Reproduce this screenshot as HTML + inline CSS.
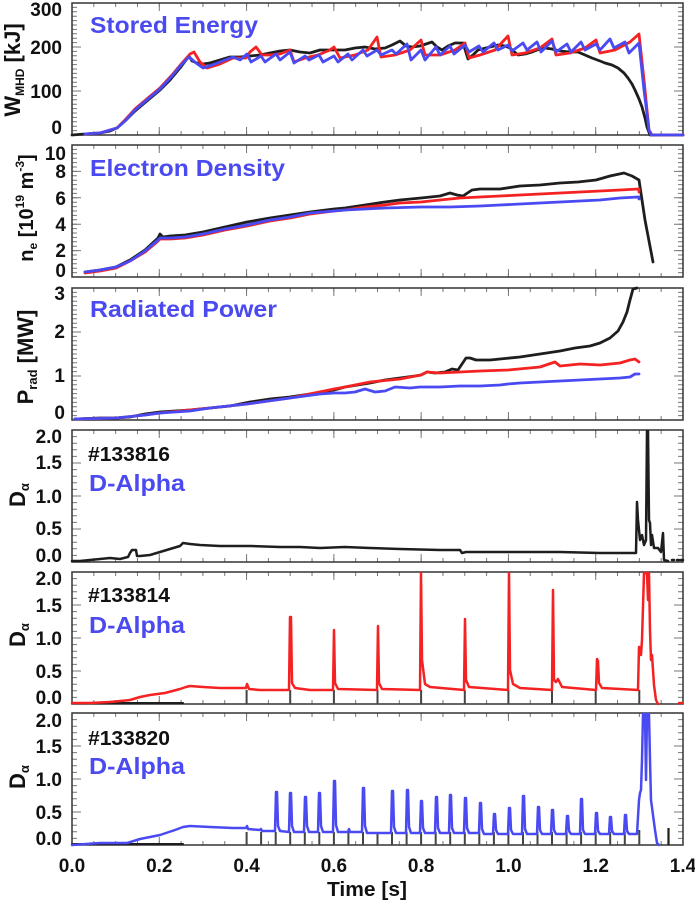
<!DOCTYPE html>
<html><head><meta charset="utf-8"><style>
html,body{margin:0;padding:0;background:#fff;}
svg{display:block;}
text{font-family:"Liberation Sans",Arial,sans-serif;font-weight:bold;}
</style></head><body>
<svg width="695" height="903" viewBox="0 0 695 903" xmlns="http://www.w3.org/2000/svg">
<rect width="695" height="903" fill="#fff"/>

<!-- Panel frames and ticks -->
<g fill="none" stroke="#777">
  <!-- panel 1 -->
  <g transform="translate(0,3)">
    <path d="M71.5 130H683.5M71.5 2H683.5" stroke-width="4" stroke-dasharray="1 20.821"/>
    <path d="M71.5 128H683.5M71.5 4H683.5" stroke-width="8" stroke-dasharray="1 86.286"/>
    <path d="M74.5 132.5V0M680.5 132.5V0" stroke-width="5" stroke-dasharray="1 3.4"/>
    <path d="M76.5 132.5V0M678.5 132.5V0" stroke-width="9" stroke-dasharray="1 43"/>
    <rect x="72" y="0" width="611" height="132" stroke="#333" stroke-width="1.5"/>
  </g>
  <!-- panel 2 -->
  <g transform="translate(0,145)">
    <path d="M71.5 130H683.5M71.5 2H683.5" stroke-width="4" stroke-dasharray="1 20.821"/>
    <path d="M71.5 128H683.5M71.5 4H683.5" stroke-width="8" stroke-dasharray="1 86.286"/>
    <path d="M74.5 132.5V0M680.5 132.5V0" stroke-width="5" stroke-dasharray="1 3.4"/>
    <path d="M76.5 132.5V0M678.5 132.5V0" stroke-width="9" stroke-dasharray="1 25.4"/>
    <rect x="72" y="0" width="611" height="132" stroke="#333" stroke-width="1.5"/>
  </g>
  <!-- panel 3 -->
  <g transform="translate(0,288)">
    <path d="M71.5 130H683.5M71.5 2H683.5" stroke-width="4" stroke-dasharray="1 20.821"/>
    <path d="M71.5 128H683.5M71.5 4H683.5" stroke-width="8" stroke-dasharray="1 86.286"/>
    <path d="M74.5 132.5V0M680.5 132.5V0" stroke-width="5" stroke-dasharray="1 3.4"/>
    <path d="M76.5 132.5V0M678.5 132.5V0" stroke-width="9" stroke-dasharray="1 43"/>
    <rect x="72" y="0" width="611" height="132" stroke="#333" stroke-width="1.5"/>
  </g>
  <!-- panel 4 -->
  <g transform="translate(0,430)">
    <path d="M71.5 130H683.5M71.5 2H683.5" stroke-width="4" stroke-dasharray="1 20.821"/>
    <path d="M71.5 128H683.5M71.5 4H683.5" stroke-width="8" stroke-dasharray="1 86.286"/>
    <path d="M74.5 132.5V0M680.5 132.5V0" stroke-width="5" stroke-dasharray="1 5.6"/>
    <path d="M76.5 132.5V0M678.5 132.5V0" stroke-width="9" stroke-dasharray="1 32"/>
    <rect x="72" y="0" width="611" height="132" stroke="#333" stroke-width="1.5"/>
  </g>
  <!-- panel 5 -->
  <g transform="translate(0,572)">
    <path d="M71.5 130H683.5M71.5 2H683.5" stroke-width="4" stroke-dasharray="1 20.821"/>
    <path d="M71.5 128H683.5M71.5 4H683.5" stroke-width="8" stroke-dasharray="1 86.286"/>
    <path d="M74.5 132.5V0M680.5 132.5V0" stroke-width="5" stroke-dasharray="1 5.6"/>
    <path d="M76.5 132.5V0M678.5 132.5V0" stroke-width="9" stroke-dasharray="1 32"/>
    <rect x="72" y="0" width="611" height="132" stroke="#333" stroke-width="1.5"/>
  </g>
  <!-- panel 6 -->
  <g transform="translate(0,713)">
    <path d="M71.5 130H683.5M71.5 2H683.5" stroke-width="4" stroke-dasharray="1 20.821"/>
    <path d="M71.5 128H683.5M71.5 4H683.5" stroke-width="8" stroke-dasharray="1 86.286"/>
    <path d="M74.5 132.5V0M680.5 132.5V0" stroke-width="5" stroke-dasharray="1 5.6"/>
    <path d="M76.5 132.5V0M678.5 132.5V0" stroke-width="9" stroke-dasharray="1 32"/>
    <rect x="72" y="0" width="611" height="132" stroke="#333" stroke-width="1.5"/>
  </g>
</g>

<!-- Data -->
<g fill="none" stroke-width="2.8" stroke-linejoin="round" stroke-linecap="round">
  <!-- Panel 1: stored energy -->
  <polyline stroke="#1e1e1e" points="72,135 85,134 100,133 110,131 117,128 125,121 135,111 148,100 160,90 170,80 180,68 186,60 189,56 192,61 197,63 203,64 210,63 220,60 230,57 240,57 250,56 260,55 270,53 280,51 290,50 300,52 310,53 320,50 330,50 345,50 355,48 365,47 375,49 385,48 392,45 400,41 406,46 412,47 420,46 426,44 432,42 437,47 442,50 448,46 455,43 463,43 468,59 473,55 478,50 490,47 498,45 505,46 510,48 518,55 525,54 532,52 540,49 545,48 552,49 560,51 570,52 578,52 585,55 592,58 600,61 605,63 612,65 618,68 624,73 628,78 632,84 635,90 639,99 642,107 645,118 647,127 650,135 683,135"/>
  <polyline stroke="#f42222" points="85,134 100,133 117,128 125,120 135,109 148,98 160,88 172,75 182,63 190,54 194,52 200,62 207,68 220,64 233,58 246,58 250,52 256,47 262,55 270,55 280,54 290,50 294,62 305,58 318,55 330,50 334,47 340,58 355,55 368,50 377,37 381,57 395,55 410,50 421,40 425,55 440,55 455,50 465,43 469,58 480,55 495,50 508,36 512,55 525,53 540,48 552,39 556,55 570,53 585,48 596,40 600,53 615,50 630,42 639,34 644,80 649,130 652,135 683,135"/>
  <polyline stroke="#4a4af2" points="85,134 100,133 117,128 125,121 135,110 148,99 160,89 172,76 182,64 189,57 196,63 203,68 215,64 225,60 233,57 240,60 247,54 251,62 261,56 265,62 276,54 280,60 290,52 294,63 305,56 309,60 319,55 323,62 334,56 338,62 348,54 352,60 363,50 367,56 377,50 381,55 392,50 396,54 407,44 411,60 421,50 425,60 436,47 440,55 450,46 454,54 465,45 469,52 479,46 483,52 494,43 498,50 508,45 512,51 523,43 527,50 537,42 541,52 552,41 556,52 567,44 571,52 581,42 585,50 596,44 600,50 610,39 614,48 625,42 629,53 639,43 644,90 649,130 651,135 683,135"/>

  <!-- Panel 2: density -->
  <polyline stroke="#1e1e1e" points="85,272 100,270 116,267 130,260 145,250 158,238 160,234 163,237 170,236 185,235 203,232 225,227 247,222 270,218 290,215 310,212 334,209 345,208 365,205 385,202 400,200 421,198 440,196 450,193 457,195 463,196 472,190 480,189 500,189 520,186 540,185 560,183 578,182 596,180 610,176 624,173 632,176 639,180 645,220 653,262"/>
  <polyline stroke="#f42222" points="85,273 100,271 116,268 130,261 145,252 158,241 160,239 170,239 185,238 203,235 225,230 247,226 270,221 290,218 310,214 334,211 345,210 365,207 385,205 400,203 421,202 440,200 460,198 480,197 500,196 520,195 540,194 560,193 580,192 600,191 620,190 639,189 639,192"/>
  <polyline stroke="#4a4af2" points="85,272 100,270 116,267 130,261 145,251 158,240 160,238 170,238 185,237 203,234 225,229 247,225 270,220 290,217 310,213 334,211 345,210 365,209 385,208 421,207 450,207 480,206 500,205 520,204 540,203 560,202 580,201 600,200 620,198 639,197 639,199"/>

  <!-- Panel 3: radiated power -->
  <polyline stroke="#1e1e1e" points="75,419 100,418 116,418 130,417 145,414 160,412 190,410 210,408 230,406 250,402 270,399 290,397 310,394 334,390 345,387 370,383 385,380 400,378 415,376 421,375 427,372 435,373 445,372 452,369 458,370 462,364 466,358 470,358 476,360 490,360 500,359 520,357 540,354 560,351 575,348 590,346 600,343 610,338 618,331 623,322 627,312 630,300 633,289 637,288"/>
  <polyline stroke="#f42222" points="75,419 116,418 145,415 160,413 190,410 210,408 247,404 290,398 334,389 345,387 370,382 400,379 421,375 427,372 440,373 460,372 480,371 508,370 540,367 555,362 560,366 580,364 600,365 620,363 630,360 635,359 639,362"/>
  <polyline stroke="#4a4af2" points="75,419 116,418 145,415 160,413 190,411 210,408 247,404 290,398 320,394 334,393 345,393 355,392 365,389 375,392 385,391 395,387 410,388 420,387 440,387 460,386 480,386 500,385 508,384 520,383 540,382 560,381 580,380 600,379 620,378 630,377 635,374 639,374"/>
</g>

<g fill="none" stroke-width="2.5" stroke-linejoin="round" stroke-linecap="round">
  <!-- Panel 4: black D-alpha -->
  <polyline stroke="#1e1e1e" points="72,561 80,561 90,560 100,559 110,558 120,559 128,557 130,553 132,550 136,550 137,556 140,556 150,555 160,552 170,549 180,546 183,543 190,544 200,545 220,546 250,546 280,547 300,547 320,548 345,547 370,548 400,549 440,550 460,550 462,553 466,552 480,552 520,552 560,552 600,553 636,553 637,502 638,520 640,540 642,535 644,545 646,540 647,431 648,431 649,520 650,523 651,545 652,535 654,548 658,548 661,552 663,533 664,560 668,561"/>
  <path d="M672 560h2M677 560h2M681 560h2" stroke="#1e1e1e"/>

  <!-- Panel 5 markers -->
  <path d="M72 703H183" stroke="#1e1e1e" stroke-width="2"/>
  <path d="M246.6 704V690M290.2 704V690M333.9 704V690M377.5 704V690M421.1 704V690M464.8 704V690M508.4 704V690M552 704V690M595.7 704V690M639.3 704V690" stroke="#444" stroke-width="2" stroke-linecap="butt"/>
  <!-- Panel 5: red D-alpha -->
  <polyline stroke="#f42222" points="72,703 90,703 110,702 130,700 140,697 150,695 165,693 180,689 186,687 190,686 203,687 220,688 246,688 247,684 249,689 260,690 289,690 290,617 291,617 292,683 295,688 310,690 333,690 334,630 335,683 338,689 377,690 378,626 379,683 382,689 420,690 421,573 422,660 425,684 430,687 464,690 465,619 466,680 469,687 508,690 509,573 510,670 513,684 520,688 552,690 553,590 554,680 556,682 558,679 562,687 596,690 597,659 598,661 599,683 602,688 638,690 639,647 640,647 641,655 642,640 644,573 647,573 648,600 649,573 650,630 651,660 652,655 654,685 656,700 658,704"/>
  <path d="M679 703h3" stroke="#f42222"/>

  <!-- Panel 6 markers -->
  <path d="M72 844H183" stroke="#1e1e1e" stroke-width="2"/>
  <path d="M246.6 845V832M261.1 845V832M275.7 845V832M290.2 845V832M304.8 845V832M319.3 845V832M333.9 845V832M348.4 845V832M363 845V832M377.5 845V832M392 845V832M406.6 845V832M421.1 845V832M435.7 845V832M450.2 845V832M464.8 845V832M479.3 845V832M493.9 845V832M508.4 845V832M523 845V832M537.5 845V832M552 845V832M566.6 845V832M581.1 845V832M595.7 845V832M610.2 845V832M624.8 845V832M639.3 845V830" stroke="#444" stroke-width="2" stroke-linecap="butt"/>
  <path d="M668.5 845V828" stroke="#1e1e1e" stroke-width="2.2" stroke-linecap="butt"/>
  <!-- Panel 6: blue D-alpha -->
  <polyline stroke="#4a4af2" points="72,845 100,843 127,843 140,839 150,837 160,835 175,830 183,827 190,826 210,827 233,828 246,828 247,826 248,829 260,830 261,829 262,831 275,831 276,792 277,792 278,826 280,831 289,832 290,793 291,793 292,826 294,832 304,832 305,797 306,797 307,826 309,832 318,832 319,793 320,793 321,826 323,832 333,832 334,781 335,781 336,825 338,832 348,832 349,829 350,832 362,832 363,788 364,788 365,826 367,833 391,833 392,791 393,791 394,827 396,833 406,833 407,790 408,790 409,827 411,833 420,833 421,801 422,801 423,828 425,833 435,833 436,797 437,797 438,828 440,833 449,833 450,795 451,795 452,828 454,833 464,833 465,798 466,798 467,828 469,833 479,833 480,803 481,803 482,829 484,834 493,834 494,814 495,814 496,830 498,834 508,834 509,808 510,808 511,830 513,834 522,834 523,796 524,796 525,829 527,834 537,834 538,807 539,807 540,830 542,834 551,834 552,810 553,810 554,830 556,834 566,834 567,816 568,816 569,831 571,834 580,834 581,799 582,799 583,830 585,834 595,834 596,813 597,813 598,831 600,834 609,834 610,817 611,817 612,831 614,834 624,834 625,815 626,815 627,831 629,834 637,834 639,800 640,793 641,790 642,760 643,714 645,714 646,780 647,714 649,714 650,760 651,800 653,815 655,830 657,843 659,845"/>
</g>

<!-- Titles -->
<g fill="#4a4af0" font-size="23">
  <text x="90" y="33" textLength="168" lengthAdjust="spacingAndGlyphs">Stored Energy</text>
  <text x="90" y="176" textLength="195" lengthAdjust="spacingAndGlyphs">Electron Density</text>
  <text x="90" y="317" textLength="187" lengthAdjust="spacingAndGlyphs">Radiated Power</text>
  <text x="89" y="491" textLength="96" lengthAdjust="spacingAndGlyphs">D-Alpha</text>
  <text x="89" y="633" textLength="96" lengthAdjust="spacingAndGlyphs">D-Alpha</text>
  <text x="89" y="774" textLength="96" lengthAdjust="spacingAndGlyphs">D-Alpha</text>
</g>
<g fill="#111" font-size="20">
  <text x="88" y="461" textLength="82" lengthAdjust="spacingAndGlyphs">#133816</text>
  <text x="88" y="602" textLength="82" lengthAdjust="spacingAndGlyphs">#133814</text>
  <text x="88" y="745" textLength="82" lengthAdjust="spacingAndGlyphs">#133820</text>
</g>

<!-- Y tick labels -->
<g fill="#111" font-size="19" text-anchor="end">
  <text x="62" y="16">300</text>
  <text x="62" y="54">200</text>
  <text x="62" y="98">100</text>
  <text x="62" y="134">0</text>

  <text x="66" y="160">10</text>
  <text x="66" y="178">8</text>
  <text x="66" y="205">6</text>
  <text x="66" y="231">4</text>
  <text x="66" y="257">2</text>
  <text x="66" y="277">0</text>

  <text x="65" y="300">3</text>
  <text x="65" y="338">2</text>
  <text x="65" y="382">1</text>
  <text x="65" y="419">0</text>

  <text x="62" y="443">2.0</text>
  <text x="62" y="469">1.5</text>
  <text x="62" y="503">1.0</text>
  <text x="62" y="535">0.5</text>
  <text x="62" y="562">0.0</text>

  <text x="62" y="585">2.0</text>
  <text x="62" y="612">1.5</text>
  <text x="62" y="645">1.0</text>
  <text x="62" y="678">0.5</text>
  <text x="62" y="704">0.0</text>

  <text x="62" y="727">2.0</text>
  <text x="62" y="753">1.5</text>
  <text x="62" y="786">1.0</text>
  <text x="62" y="819">0.5</text>
  <text x="62" y="845">0.0</text>
</g>

<!-- X tick labels -->
<g fill="#111" font-size="19" text-anchor="middle">
  <text x="72" y="872">0.0</text>
  <text x="159.3" y="872">0.2</text>
  <text x="246.6" y="872">0.4</text>
  <text x="333.9" y="872">0.6</text>
  <text x="421.1" y="872">0.8</text>
  <text x="508.4" y="872">1.0</text>
  <text x="595.7" y="872">1.2</text>
  <text x="683" y="872">1.4</text>
</g>
<text x="327" y="896" font-size="20" fill="#111" textLength="80" lengthAdjust="spacingAndGlyphs">Time [s]</text>

<!-- Y axis labels -->
<g fill="#111">
  <text transform="translate(20,70) rotate(-90)" text-anchor="middle" font-size="22">W<tspan font-size="12" dy="4">MHD</tspan><tspan dy="-4"> [kJ]</tspan></text>
  <text transform="translate(33,208) rotate(-90)" text-anchor="middle" font-size="20">n<tspan font-size="12" dy="4">e</tspan><tspan dy="-4"> [10</tspan><tspan font-size="12" dy="-9">19</tspan><tspan dy="9"> m</tspan><tspan font-size="12" dy="-9">-3</tspan><tspan dy="9">]</tspan></text>
  <text transform="translate(33,357) rotate(-90)" text-anchor="middle" font-size="22">P<tspan font-size="13" dy="4">rad</tspan><tspan dy="-4"> [MW]</tspan></text>
  <text transform="translate(25,507) rotate(-90)" font-size="22">D<tspan font-size="13" dy="4">α</tspan></text>
  <text transform="translate(25,647) rotate(-90)" font-size="22">D<tspan font-size="13" dy="4">α</tspan></text>
  <text transform="translate(25,789) rotate(-90)" font-size="22">D<tspan font-size="13" dy="4">α</tspan></text>
</g>
</svg>
</body></html>
